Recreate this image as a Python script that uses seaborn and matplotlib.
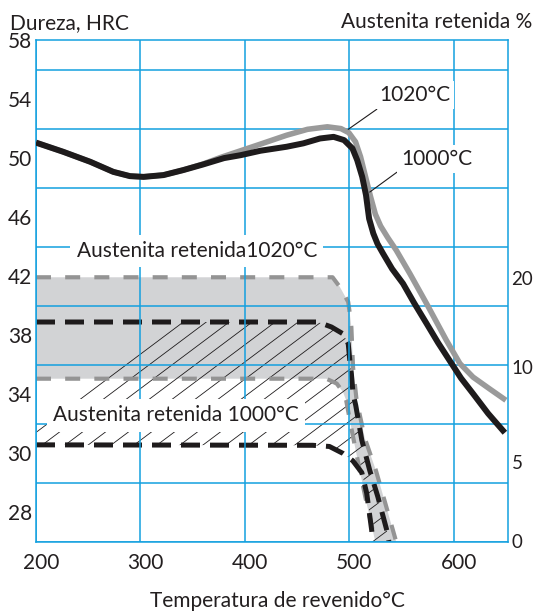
import numpy as np
import pandas as pd
import matplotlib
matplotlib.use("Agg")
import matplotlib.pyplot as plt
import matplotlib.transforms as mtransforms
from matplotlib.patches import Polygon
import seaborn as sns

# ---------------- data ----------------
# Hardness (HRC) vs tempering temperature, austenitized at 1000 °C
temp_1000 = [200, 226, 252, 274, 290, 303, 322, 341, 360, 380, 396, 415, 440, 456, 472,
             485, 495, 503, 507.6, 512.4, 516, 519, 523, 527, 532.3, 541, 551.5, 562, 574,
             585, 596, 607, 618.5, 633, 649]
hrc_1000 = [51.05, 50.43, 49.75, 49.07, 48.78, 48.73, 48.85, 49.19, 49.57, 50.0, 50.2,
            50.5, 50.77, 51.0, 51.33, 51.44, 51.22, 50.66, 49.86, 48.73, 47.5, 45.9,
            44.9, 44.2, 43.54, 42.5, 41.5, 40.2, 38.8, 37.5, 36.3, 35.1, 34.05, 32.7, 31.4]

# Hardness (HRC), austenitized at 1020 °C
temp_1020 = [200, 226, 252, 274, 290, 303, 322, 341, 360, 377, 396, 415, 440, 460, 479,
             492, 499.6, 506, 510.8, 515.6, 520.4, 525, 530, 537, 545, 558, 574, 593, 606,
             618.5, 634, 650]
hrc_1020 = [51.05, 50.43, 49.75, 49.07, 48.78, 48.73, 48.85, 49.19, 49.6, 50.05, 50.5,
            50.95, 51.55, 51.95, 52.12, 52.0, 51.72, 51.1, 50.09, 48.73, 47.38, 46.2,
            45.4, 44.6, 43.76, 42.18, 40.15, 37.66, 36.08, 35.17, 34.39, 33.6]

# Retained austenite scatter bands (drawn on the hardness scale of the chart)
ra1020_upper_t = [200, 484, 491, 499, 500.5, 502, 503.6, 507, 515, 525.5, 535, 545]
ra1020_upper_h = [41.93, 41.93, 41.27, 40.26, 39.47, 38.56, 35.85, 33.6, 31.0, 28.85, 26.5, 24.0]
ra1020_lower_t = [200, 478, 488, 494, 497, 502.4, 510, 517, 525]
ra1020_lower_h = [35.06, 35.06, 34.73, 34.16, 33.6, 31.56, 28.85, 26.5, 24.0]

ra1000_upper_t = [200, 470, 483, 494, 499, 500.5, 502, 503.6, 506.2, 512, 519.6, 527.3, 536, 538]
ra1000_upper_h = [38.9, 38.9, 38.56, 38.1, 37.44, 36.3, 35.4, 34.05, 33.25, 30.9, 28.85, 27.08, 24.78, 24.0]
ra1000_lower_t = [200, 465, 481, 494, 503.4, 512, 516.7, 521.5, 522.5]
ra1000_lower_h = [30.58, 30.55, 30.47, 30.0, 29.5, 28.7, 27.3, 24.78, 24.0]

x_ticks = [200, 300, 400, 500, 600]
left_tick_pos = [58, 54, 50, 46, 42, 38, 34, 30, 26]
left_tick_labels = ["58", "54", "50", "46", "42", "38", "34", "30", "28"]
right_tick_pos = [41.9, 35.85, 29.4, 24.1]
right_tick_labels = ["20", "10", "5", "0"]

# ---------------- style ----------------
BLUE = "#14a0df"
BLACK = "#1e1b1c"
GRAY_LINE = "#9a9a9a"
GRAY_DASH = "#949494"
GRAY_FILL = "#d2d3d5"
TXT = "#231f20"
FS = 15

sns.set_theme(style="white")
plt.rcParams["font.family"] = ["Lato", "DejaVu Sans"]

fig = plt.figure(figsize=(5.34, 6.14), dpi=100)
ax = fig.add_axes([36 / 534, 1 - 542 / 614, 472 / 534, 502 / 614])
ax.set_xlim(200, 652)
ax.set_ylim(24, 58)

# grid
ax.set_xticks(x_ticks)
ax.set_yticks(left_tick_pos)
ax.set_yticklabels(left_tick_labels)
ax.set_yticks(np.arange(24, 59, 2), minor=True)
ax.grid(False)
ax.xaxis.grid(True, which="major", color=BLUE, lw=1.1, zorder=1)
ax.yaxis.grid(True, which="minor", color=BLUE, lw=1.1, zorder=1)
ax.set_axisbelow(False)
for s in ax.spines.values():
    s.set_color(BLUE)
    s.set_linewidth(1.1)
    s.set_visible(True)
ax.tick_params(axis="both", which="both", length=0, labelsize=FS, colors=TXT)
ax.tick_params(axis="x", pad=8)
ax.tick_params(axis="y", pad=3)
offset = mtransforms.ScaledTranslation(5 / 100, 0, fig.dpi_scale_trans)
for lab in ax.get_xticklabels():
    lab.set_transform(lab.get_transform() + offset)

# ---------------- bands ----------------
poly1020 = list(zip(ra1020_upper_t, ra1020_upper_h)) + list(zip(ra1020_lower_t[::-1], ra1020_lower_h[::-1]))
ax.add_patch(Polygon(poly1020, closed=True, facecolor=GRAY_FILL, edgecolor="none", zorder=0.5))

poly1000 = list(zip(ra1000_upper_t, ra1000_upper_h)) + list(zip(ra1000_lower_t[::-1], ra1000_lower_h[::-1]))
clip_patch = Polygon(poly1000, closed=True, facecolor="none", edgecolor="none", zorder=0)
ax.add_patch(clip_patch)

# hatch lines for the 1000 °C band, clipped to the band
slope = 0.75 * 1.0425 / 14.75
hx = np.array([150.0, 700.0])
for c in np.arange(60, 700, 22):
    ln, = ax.plot(hx, 24 + slope * (hx - c), color=BLACK, lw=0.6, zorder=1.5)
    ln.set_clip_path(clip_patch)

def dashed(t, h, color, lw, pattern, z):
    df = pd.DataFrame({"t": t, "h": h})
    sns.lineplot(data=df, x="t", y="h", sort=False, estimator=None, color=color,
                 lw=lw, ax=ax, zorder=z)
    line = ax.lines[-1]
    line.set_linestyle((0, pattern))
    line.set_dash_capstyle("butt")
    line.set_solid_joinstyle("round")

dashed(ra1020_upper_t, ra1020_upper_h, GRAY_DASH, 3.0, (3.6, 3.4), 2)
dashed(ra1020_lower_t, ra1020_lower_h, GRAY_DASH, 3.0, (3.6, 3.4), 2)
dashed(ra1000_upper_t, ra1000_upper_h, BLACK, 3.6, (3.8, 2.0), 2.2)
dashed(ra1000_lower_t, ra1000_lower_h, BLACK, 3.6, (3.8, 2.0), 2.2)

# ---------------- hardness curves ----------------
df1020 = pd.DataFrame({"t": temp_1020, "h": hrc_1020})
df1000 = pd.DataFrame({"t": temp_1000, "h": hrc_1000})
sns.lineplot(data=df1020, x="t", y="h", sort=False, estimator=None, color=GRAY_LINE,
             lw=4.0, ax=ax, zorder=3, solid_joinstyle="round", solid_capstyle="butt")
sns.lineplot(data=df1000, x="t", y="h", sort=False, estimator=None, color=BLACK,
             lw=4.3, ax=ax, zorder=3.2, solid_joinstyle="round", solid_capstyle="butt")

ax.set_xlabel("")
ax.set_ylabel("")

# ---------------- labels ----------------
box = dict(boxstyle="square,pad=0.3", fc="white", ec="none")
ax.text(239, 43.7, "Austenita retenida1020°C", ha="left", va="center", fontsize=FS,
        color=TXT, bbox=box, zorder=5)
ax.text(216.3, 32.58, "Austenita retenida 1000°C", ha="left", va="center", fontsize=FS,
        color=TXT, bbox=box, zorder=5)
ax.annotate("1020°C", xy=(499, 51.95), xytext=(562.7, 54.27), ha="center", va="center",
            fontsize=FS, color=TXT, bbox=dict(boxstyle="square,pad=0.2", fc="white", ec="none"),
            arrowprops=dict(arrowstyle="-", color=BLACK, lw=0.8, shrinkA=0, shrinkB=0,
                            relpos=(0.05, 0.0)), zorder=5)
ax.annotate("1000°C", xy=(519.6, 47.7), xytext=(583.7, 49.93), ha="center", va="center",
            fontsize=FS, color=TXT, bbox=dict(boxstyle="square,pad=0.2", fc="white", ec="none"),
            arrowprops=dict(arrowstyle="-", color=BLACK, lw=0.8, shrinkA=0, shrinkB=0,
                            relpos=(0.0, 0.0)), zorder=5)

# right axis
ax2 = ax.twinx()
ax2.set_ylim(24, 58)
ax2.set_yticks(right_tick_pos)
ax2.set_yticklabels(right_tick_labels)
ax2.tick_params(axis="y", length=0, labelsize=13.5, colors=TXT, pad=2.5)
ax2.grid(False)
for s in ax2.spines.values():
    s.set_visible(False)

fig.text(10 / 534, 1 - 22.7 / 614, "Dureza, HRC", ha="left", va="center", fontsize=FS, color=TXT)
fig.text(532 / 534, 1 - 22 / 614, "Austenita retenida %", ha="right", va="center", fontsize=FS, color=TXT)
fig.text(277 / 534, 1 - 601 / 614, "Temperatura de revenido°C", ha="center", va="center",
         fontsize=FS, color=TXT)

fig.savefig("out.png", dpi=100)
